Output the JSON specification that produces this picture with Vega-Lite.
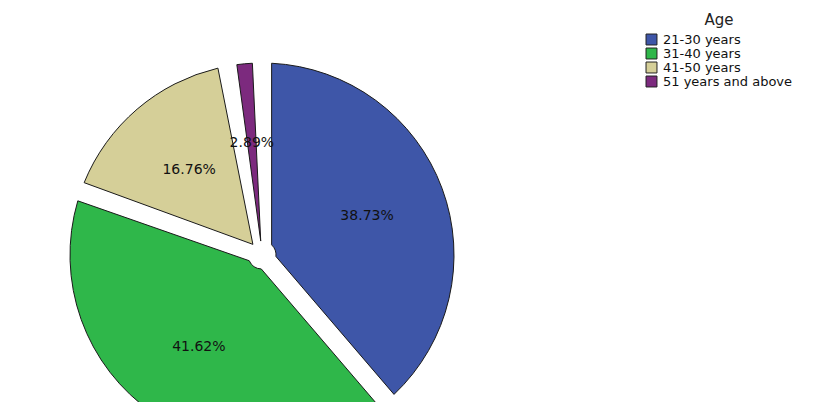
{
  "$schema": "https://vega.github.io/schema/vega-lite/v6.json",
  "autosize": {"type": "none"},
  "width": 524,
  "height": 294,
  "padding": {"left": 0, "top": 108, "right": 306, "bottom": 0},
  "background": "white",
  "config": {"view": {"stroke": null}, "font": "DejaVu Sans"},
  "data": {
    "values": [
      {"Age": "21-30 years", "pct": 38.73, "label": "38.73%"},
      {"Age": "31-40 years", "pct": 41.62, "label": "41.62%"},
      {"Age": "41-50 years", "pct": 16.76, "label": "16.76%"},
      {"Age": "51 years and above", "pct": 2.89, "label": "2.89%"}
    ]
  },
  "encoding": {
    "theta": {"field": "pct", "type": "quantitative", "stack": true},
    "order": {"field": "Age", "sort": "ascending"}
  },
  "layer": [
    {
      "mark": {"type": "arc", "outerRadius": 192, "innerRadius": 14, "padAngle": 0.1, "stroke": "#1a1a1a", "strokeWidth": 1},
      "encoding": {
        "color": {
          "field": "Age",
          "type": "nominal",
          "scale": {"domain": ["21-30 years", "31-40 years", "41-50 years", "51 years and above"], "range": ["#3E56A8", "#2FB74A", "#D5CF98", "#7C2A7E"]},
          "legend": {
            "orient": "none",
            "legendX": 645,
            "legendY": -95,
            "title": "Age",
            "titleFontSize": 15,
            "titleFontWeight": "normal",
            "titleColor": "#222",
            "titleAnchor": "middle",
            "titlePadding": 5,
            "labelFontSize": 13,
            "labelColor": "#111",
            "symbolType": "square",
            "symbolSize": 120,
            "symbolStrokeColor": "#222",
            "symbolStrokeWidth": 1,
            "rowPadding": -4,
            "labelOffset": 5
          }
        }
      }
    },
    {
      "mark": {"type": "text", "radius": 112, "fontSize": 14, "color": "#111"},
      "encoding": {
        "text": {"field": "label"},
        "detail": {"field": "Age"}
      }
    }
  ]
}
